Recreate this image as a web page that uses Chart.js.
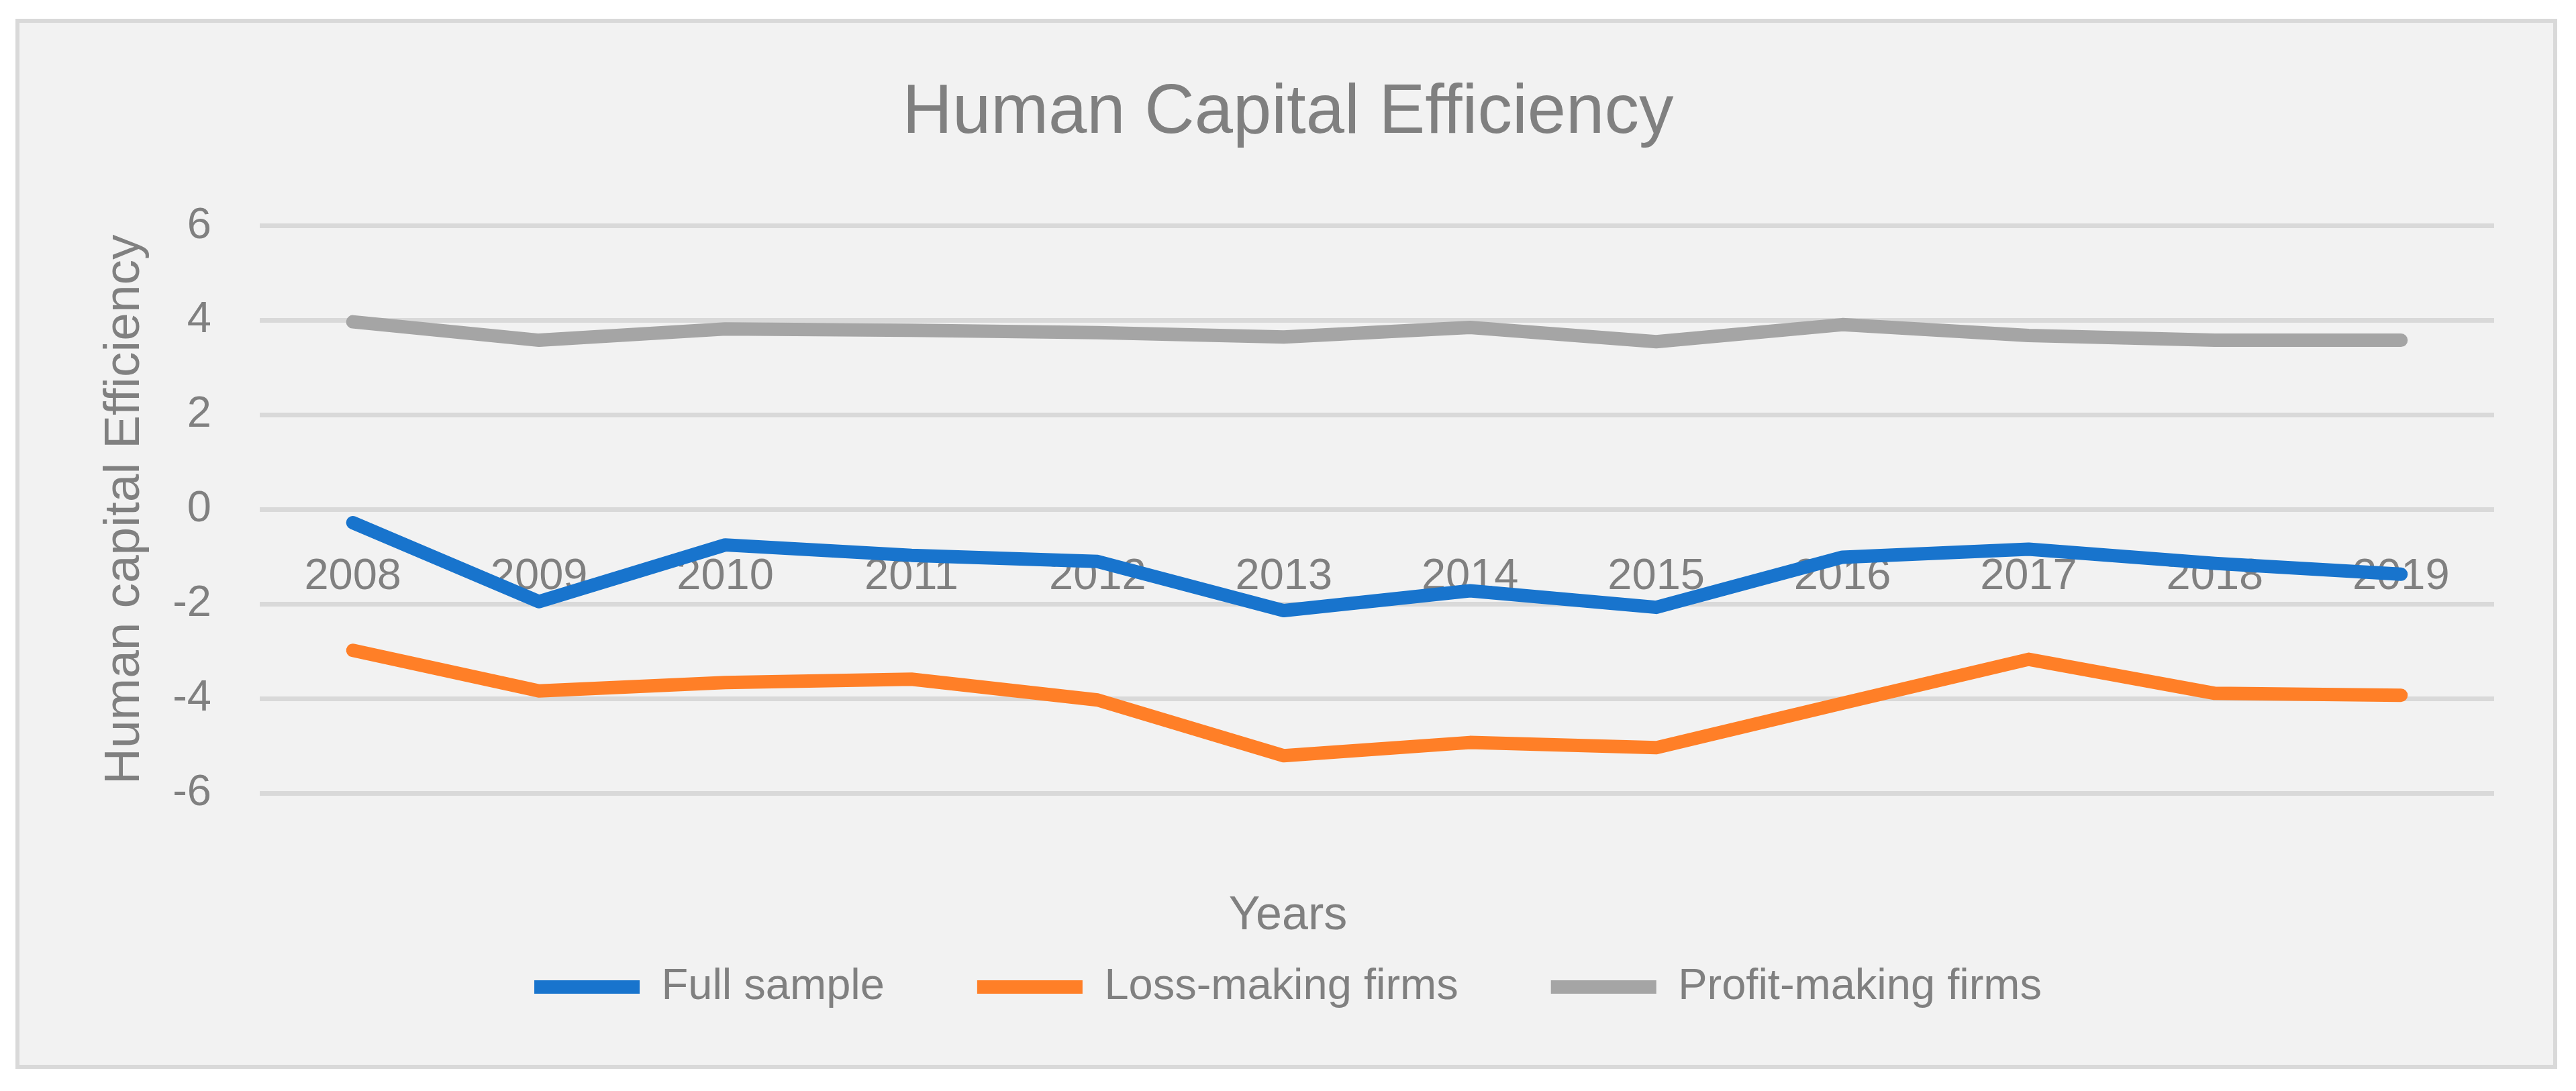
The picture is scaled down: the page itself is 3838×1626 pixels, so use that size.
<!DOCTYPE html>
<html>
<head>
<meta charset="utf-8">
<title>Human Capital Efficiency</title>
<script src="https://cdn.jsdelivr.net/npm/chart.js@4.4.1/dist/chart.umd.min.js"></script>
<style>
    html, body { margin: 0; padding: 0; background: #ffffff; }
    #wrap { width: 3838px; height: 1626px; position: relative; }
</style>
</head>
<body>
<div id="wrap"><canvas id="hceChart"></canvas></div>
<script>
// Data
const years = ['2008', '2009', '2010', '2011', '2012', '2013', '2014', '2015', '2016', '2017', '2018', '2019'];
const fullSample = [-0.28, -1.95, -0.75, -0.97, -1.10, -2.14, -1.72, -2.07, -1.01, -0.84, -1.14, -1.37];
const lossMaking = [-2.98, -3.84, -3.66, -3.59, -4.03, -5.21, -4.93, -5.04, -4.10, -3.17, -3.89, -3.93];
const profitMaking = [3.97, 3.58, 3.82, 3.79, 3.74, 3.65, 3.85, 3.55, 3.91, 3.68, 3.58, 3.58];
const seriesNames = ['Full sample', 'Loss-making firms', 'Profit-making firms'];

const TEXT_GREY = '#808080';
Chart.defaults.font.family = '"Liberation Sans", Arial, sans-serif';
Chart.defaults.color = TEXT_GREY;

// Chart-area fill and frame, like the Excel chart
const frame = {
    id: 'frame',
    beforeDraw(chart) {
        const c = chart.ctx;
        c.save();
        c.fillStyle = '#ffffff';
        c.fillRect(0, 0, chart.width, chart.height);
        c.fillStyle = '#F2F2F2';
        c.fillRect(26, 31, 3781, 1559);
        c.strokeStyle = '#D9D9D9';
        c.lineWidth = 6;
        c.strokeRect(26, 31, 3781, 1559);
        c.restore();
    }
};

function line(label, data, color) {
    return {
        label: label,
        data: data,
        borderColor: color,
        backgroundColor: color,
        borderWidth: 20,
        borderCapStyle: 'round',
        borderJoinStyle: 'round',
        pointRadius: 0,
        pointHoverRadius: 0,
        tension: 0,
        fill: false
    };
}

const ctx = document.getElementById('hceChart').getContext('2d');
const hceChart = new Chart(ctx, {
    type: 'line',
    data: {
        labels: years,
        datasets: [
            line(seriesNames[0], fullSample, '#1874CD'),
            line(seriesNames[1], lossMaking, '#FF7F27'),
            line(seriesNames[2], profitMaking, '#A5A5A5')
        ]
    },
    options: {
        responsive: true,
        maintainAspectRatio: false,
        devicePixelRatio: 1,
        animation: false,
        layout: { padding: { left: 0, right: 0, top: 0, bottom: 112.5 } },
        scales: {
            x: {
                type: 'category',
                position: { y: 0 }, // year labels sit under the zero line
                offset: true,
                z: 1,
                grid: { display: false, drawTicks: false },
                border: { display: false },
                ticks: { font: { size: 65 }, color: TEXT_GREY, padding: 62, maxRotation: 0, autoSkip: false }
            },
            y: {
                min: -6,
                max: 6,
                grid: { color: '#D9D9D9', lineWidth: 7, drawTicks: false },
                border: { display: false },
                ticks: { stepSize: 2, font: { size: 65 }, color: TEXT_GREY, padding: 72 },
                title: {
                    display: true,
                    text: 'Human capital Efficiency',
                    font: { size: 75 },
                    color: TEXT_GREY,
                    padding: { top: 141, bottom: 0 }
                },
                afterFit: (scale) => { scale.width = 387; }
            },
            // empty right axis only keeps the right margin, so titles stay centred on the canvas
            yRight: {
                position: 'right',
                grid: { display: false, drawTicks: false },
                border: { display: false },
                ticks: { display: false },
                afterFit: (scale) => { scale.width = 122; }
            }
        },
        plugins: {
            title: {
                display: true,
                text: 'Human Capital Efficiency',
                font: { size: 103, weight: 'normal' },
                color: TEXT_GREY,
                padding: { top: 108, bottom: 105 }
            },
            legend: {
                position: 'bottom',
                title: {
                    display: true,
                    text: 'Years',
                    font: { size: 70 },
                    color: TEXT_GREY,
                    padding: { top: 149, bottom: -114.5 }
                },
                labels: {
                    usePointStyle: true,
                    pointStyle: 'line',
                    pointStyleWidth: 157,
                    font: { size: 65 },
                    color: TEXT_GREY,
                    padding: 138
                }
            },
            tooltip: { enabled: false }
        }
    },
    plugins: [frame]
});
</script>
</body>
</html>
